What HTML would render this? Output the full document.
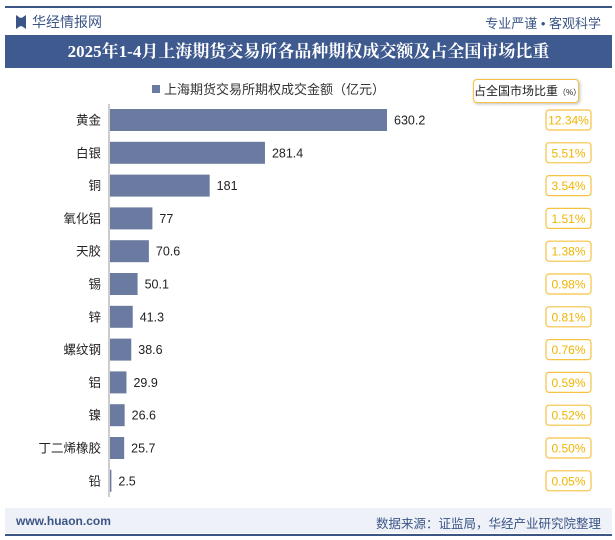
<!DOCTYPE html>
<html><head><meta charset="utf-8"><style>
body{margin:0;width:615px;height:540px;background:#fff;font-family:"Liberation Sans","Noto Sans CJK SC",sans-serif;position:relative;overflow:hidden}
.abs{position:absolute}
</style></head><body>
<div class="abs" style="left:5px;top:6px;width:607px;height:2px;background:#3c5587"></div>
<div class="abs" style="left:16px;top:12px;font-size:14px;color:#3c5587"><span style="display:inline-block;width:10px;height:14px;background:#3c5587;vertical-align:-2px;margin-right:6px;clip-path:polygon(0 0,40% 20%,60% 20%,100% 0,100% 100%,60% 80%,40% 80%,0 100%)"></span>华经情报网</div>
<div class="abs" style="right:14px;top:13px;font-size:13px;color:#3c5587">专业严谨 • 客观科学</div>
<div class="abs" style="left:5px;top:35px;width:607px;height:33px;background:#3f5a8e;color:#fff;font-family:'Liberation Serif','Noto Serif CJK SC',serif;font-weight:bold;font-size:17px;line-height:33px;text-align:center">2025年1-4月上海期货交易所各品种期权成交额及占全国市场比重</div>
<div class="abs" style="left:152px;top:79px;font-size:13px;color:#333"><span style="display:inline-block;width:8px;height:8px;background:#6a7aa0;margin-right:4px;vertical-align:1px"></span>上海期货交易所期权成交金额（亿元）</div>
<div class="abs" style="left:473px;top:79px;width:104px;height:22px;border:1px solid #f5c242;border-radius:4px;background:#fff;font-size:12px;line-height:22px;text-align:center;color:#222;box-shadow:1px 1px 3px #bbb;white-space:nowrap">占全国市场比重<span style="font-size:8px">（%）</span></div>
<svg class="abs" style="left:0;top:0" width="615" height="540" id="chart"></svg>
<div class="abs" style="left:5px;top:508px;width:607px;height:25px;background:#eef1f7"></div>
<div class="abs" style="left:16px;top:514px;font-size:12px;color:#3c5587;font-weight:bold">www.huaon.com</div>
<div class="abs" style="right:14px;top:513px;font-size:12.5px;color:#3c5587">数据来源：证监局，华经产业研究院整理</div>
<div class="abs" style="left:5px;top:534px;width:607px;height:2px;background:#3c5587"></div>
<script>
const categories=["黄金","白银","铜","氧化铝","天胶","锡","锌","螺纹钢","铝","镍","丁二烯橡胶","铅"];
const values=[630.2,281.4,181,77,70.6,50.1,41.3,38.6,29.9,26.6,25.7,2.5];
const valueLabels=["630.2","281.4","181","77","70.6","50.1","41.3","38.6","29.9","26.6","25.7","2.5"];
const shares=["12.34%","5.51%","3.54%","1.51%","1.38%","0.98%","0.81%","0.76%","0.59%","0.52%","0.50%","0.05%"];
const svg=document.getElementById('chart');const NS='http://www.w3.org/2000/svg';
const x0=110,axisMax=503,plotW=277,xs=v=>x0+Math.min(v,axisMax)*(plotW/axisMax),yc=i=>120+i*32.8;
function mk(t,a){const e=document.createElementNS(NS,t);for(const k in a)e.setAttribute(k,a[k]);svg.appendChild(e);return e;}
const ax=mk('line',{x1:109,y1:104,x2:109,y2:497,stroke:'#999','stroke-width':1});


categories.forEach((c,i)=>{
const y=yc(i);
const r=mk('rect',{x:x0,y:y-11,width:xs(values[i])-x0,height:22,fill:'#6a7aa0'});


const t=mk('text',{x:101,y:y+4.5,'text-anchor':'end','font-size':12.5,fill:'#222'});t.textContent=c;


const v=mk('text',{x:xs(values[i])+7,y:y+4.5,'font-size':12.5,fill:'#222'});v.textContent=valueLabels[i];


const b=mk('rect',{x:546,y:y-10,width:45,height:20,rx:3,fill:'#fff',stroke:'#f5c242','stroke-width':1.2});


const s=mk('text',{x:568.5,y:y+4.5,'text-anchor':'middle','font-size':12,fill:'#f0b400'});s.textContent=shares[i];


});
</script>
</body></html>
